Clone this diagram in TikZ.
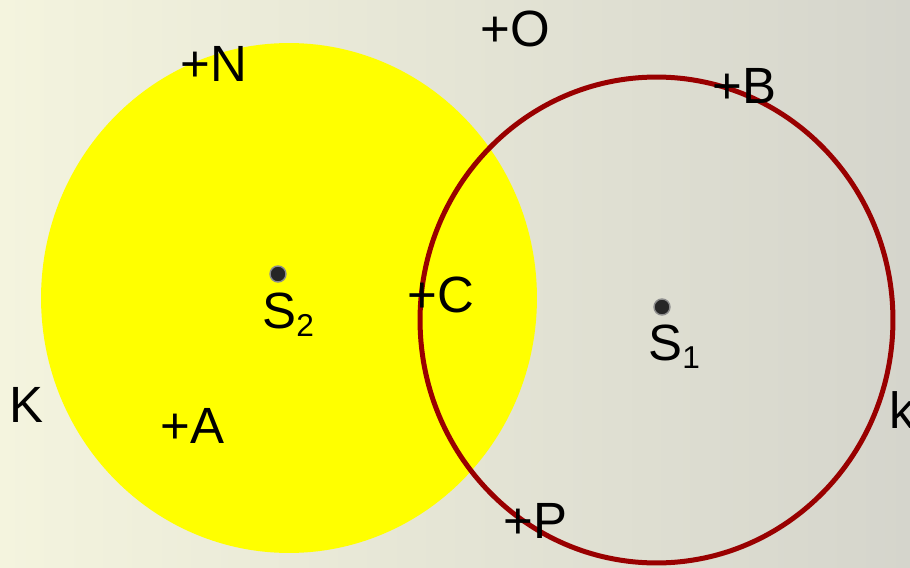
\documentclass[tikz,border=0pt]{standalone}
\usepackage{fontspec}
\setmainfont{Liberation Sans}
\definecolor{bgleft}{RGB}{244,244,222}
\definecolor{bgright}{RGB}{213,213,204}
\definecolor{ringred}{RGB}{153,0,0}
\definecolor{discyellow}{RGB}{255,255,0}
\tikzset{
    ptlabel/.style={anchor=base west, inner sep=0pt, font=\fontsize{29}{30}\selectfont},
    centredot/.style={circle, fill=black!85, draw=black!45, line width=0.8pt,
        minimum size=0.32cm, inner sep=0pt},
    ringline/.style={draw=ringred, line width=0.1cm}
}
\newcommand{\lowsub}[1]{\raisebox{-0.16em}{\fontsize{18}{18}\selectfont #1}}

\begin{document}
\begin{tikzpicture}[x=0.02cm, y=-0.02cm]
\useasboundingbox (0,0) rectangle (910,568);
\clip (0,0) rectangle (910,568);
\shade[left color=bgleft, right color=bgright] (0,0) rectangle (910,568);
% the two circles
\fill[discyellow] (289,298) ellipse [x radius=4.96cm, y radius=5.1cm];
\draw[ringline] (656.5,320) ellipse [x radius=4.73cm, y radius=4.86cm];
% centres
\node[centredot] (dotS2) at (278,274) {};
\node[centredot] (dotS1) at (662,307) {};
\node[ptlabel] (labS2) at (262,328) {S\lowsub{2}};
\node[ptlabel] (labS1) at (648,360) {S\lowsub{1}};
% points
\node[ptlabel] (ptO) at (480,47) {+O};
\node[ptlabel] (ptN) at (180,81) {+N};
\node[ptlabel] (ptB) at (712,103) {+B};
\node[ptlabel] (ptC) at (407,312) {+C};
\node[ptlabel] (ptA) at (160,443) {+A};
\node[ptlabel] (ptP) at (503,538) {+P};
\node[ptlabel] (labK) at (9,422) {K};
\node[ptlabel] (labk) at (889,428) {k};
\end{tikzpicture}
\end{document}
